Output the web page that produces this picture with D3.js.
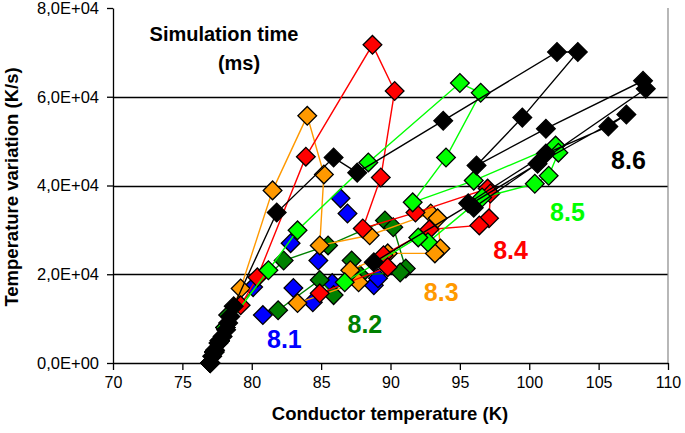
<!DOCTYPE html>
<html><head><meta charset="utf-8">
<script src="https://cdn.jsdelivr.net/npm/d3@7"></script>
<style>
body{margin:0;background:#fff}
svg{display:block}
text{font-family:"Liberation Sans",Arial,sans-serif}
</style>
</head><body>
<svg id="c" width="685" height="433"></svg>
<script>
// ---- data ----
const seriesNames = ["8.1", "8.2", "8.3", "8.4", "8.5", "8.6"];
const s81 = [[77.0,0],[77.3,2500],[77.7,5000],[78.1,8000],[80.1,17100],[80.8,10800],[82.8,27000],[83.0,16900],[84.4,13700],[84.8,23100],[85.8,18000],[86.4,37100],[86.9,33700],[88.8,17500],[89.1,19100]];
const s82 = [[77.0,0],[77.3,2500],[77.7,5000],[78.1,8000],[78.3,10800],[82.3,23100],[85.5,26500],[89.6,32100],[90.2,30600],[91.1,21300],[90.7,20400],[87.8,19800],[87.2,23100],[85.9,15300],[84.9,18700],[81.9,11900]];
const s83 = [[77.0,0],[77.3,2500],[77.7,5000],[78.1,8000],[79.2,16800],[81.5,38900],[84.0,55700],[85.2,42500],[84.9,26500],[88.5,28800],[92.9,33700],[93.4,32600],[93.6,25800],[93.2,24700],[89.8,24700],[87.1,20900],[87.7,18200],[83.3,13500]];
const s84 = [[77.0,0],[77.3,2500],[77.7,5000],[78.1,8000],[79.2,13000],[80.4,19300],[83.9,46500],[88.7,71700],[90.3,61300],[89.3,41800],[88.0,30300],[91.8,33900],[97.0,39300],[97.2,38200],[97.1,32600],[96.4,31000],[92.8,30100],[89.5,24300],[89.8,21600],[84.9,15700]];
const s85 = [[77.0,0],[77.3,2500],[77.7,5000],[78.1,8000],[81.2,20900],[83.3,29900],[88.4,45200],[95.0,63100],[96.5,60900],[94.0,46300],[91.6,36200],[96.0,41100],[101.9,49000],[102.1,47400],[101.4,42200],[100.4,40400],[96.6,37300],[92.7,27200],[92.0,28300],[86.7,18200]];
const s86 = [[77.0,0],[77.15,1500],[77.35,2900],[77.6,4500],[77.9,6000],[78.15,7500],[78.3,9000],[78.45,10500],[78.7,12800],[81.8,33900],[85.9,46300],[87.6,42900],[93.8,54600],[102.0,70100],[103.5,70100],[99.5,55300],[96.2,44500],[101.2,52800],[108.2,63600],[108.4,61800],[96.0,35000],[95.6,36000],[101.2,47200],[105.7,53300],[107.0,56000],[100.6,44900],[88.8,22700]];
const seriesData = [s81, s82, s83, s84, s85, s86];
const xTicks = [70, 75, 80, 85, 90, 95, 100, 105, 110];
const yTicks = [0, 20000, 40000, 60000, 80000];
const yTickLabels = ["0,0E+00", "2,0E+04", "4,0E+04", "6,0E+04", "8,0E+04"];
const gridValues = [20000, 40000, 60000];
// label anchors (data units)
const labelX = [81.1, 86.9, 92.4, 97.4, 101.5, 105.9];
const labelY = [3400, 6700, 13900, 23400, 32100, 43800];

// ---- styles ----
const colors = ["#0000ff", "#008000", "#ff9900", "#ff0000", "#00ff00", "#000000"];
const drawLine = [false, true, true, true, true, true];

const svg = d3.select("#c");
const x = d3.scaleLinear().domain([70, 110]).range([113, 668]);
const y = d3.scaleLinear().domain([0, 80000]).range([363, 8]);

// grid
svg.append("g").selectAll("line").data(gridValues).join("line")
  .attr("x1", x(70)).attr("x2", x(110))
  .attr("y1", d => Math.round(y(d)) + 0.5).attr("y2", d => Math.round(y(d)) + 0.5)
  .attr("stroke", "#000").attr("stroke-width", 1.3);
// right border
svg.append("line").attr("x1", x(110)).attr("x2", x(110)).attr("y1", y(80000)).attr("y2", y(0))
  .attr("stroke", "#888").attr("stroke-width", 1.2);

// axes
const xa = svg.append("g").attr("transform", `translate(0,${y(0)})`)
  .call(d3.axisBottom(x).tickValues(xTicks).tickSize(7).tickSizeOuter(0).tickPadding(7).tickFormat(d3.format("d")));
const ya = svg.append("g").attr("transform", `translate(${x(70)},0)`)
  .call(d3.axisLeft(y).tickValues(yTicks).tickSize(6).tickSizeOuter(0).tickPadding(8).tickFormat((d, i) => yTickLabels[i]));
[xa, ya].forEach(g => {
  g.selectAll("path,line").attr("stroke", "#000").attr("stroke-width", 1.3);
  g.selectAll("text").attr("fill", "#000").style("font-size", "16.5px").style("font-family", "'Liberation Sans',Arial,sans-serif");
});
xa.selectAll("text").style("font-size", "16px");

// series
const line = d3.line().x(d => x(d[0])).y(d => y(d[1]));
const sym = d3.symbol().type(d3.symbolSquare).size(175);
seriesData.forEach((data, i) => {
  const g = svg.append("g");
  if (drawLine[i]) {
    g.append("path").datum(data).attr("d", line).attr("fill", "none")
      .attr("stroke", colors[i]).attr("stroke-width", 1.4);
  }
  g.selectAll("path.m").data(data).join("path").attr("class", "m")
    .attr("d", sym)
    .attr("transform", d => `translate(${x(d[0])},${y(d[1])}) rotate(45)`)
    .attr("fill", colors[i]).attr("stroke", "#000").attr("stroke-width", 1.3);
});

// series labels
svg.append("g").selectAll("text").data(seriesNames).join("text")
  .attr("x", (d, i) => x(labelX[i])).attr("y", (d, i) => y(labelY[i]))
  .attr("fill", (d, i) => colors[i])
  .style("font-size", "25px").style("font-weight", "bold")
  .text(d => d);

// annotation
svg.append("text").attr("x", 224).attr("y", 41).attr("text-anchor", "middle")
  .style("font-size", "20px").style("font-weight", "bold").text("Simulation time");
svg.append("text").attr("x", 239).attr("y", 70).attr("text-anchor", "middle")
  .style("font-size", "20px").style("font-weight", "bold").text("(ms)");

// axis titles
svg.append("text").attr("x", 390).attr("y", 420).attr("text-anchor", "middle")
  .style("font-size", "18.5px").style("font-weight", "bold").text("Conductor temperature (K)");
svg.append("text").attr("transform", "translate(18,187) rotate(-90)").attr("text-anchor", "middle")
  .style("font-size", "18.5px").style("font-weight", "bold").text("Temperature variation (K/s)");
</script>
</body></html>
